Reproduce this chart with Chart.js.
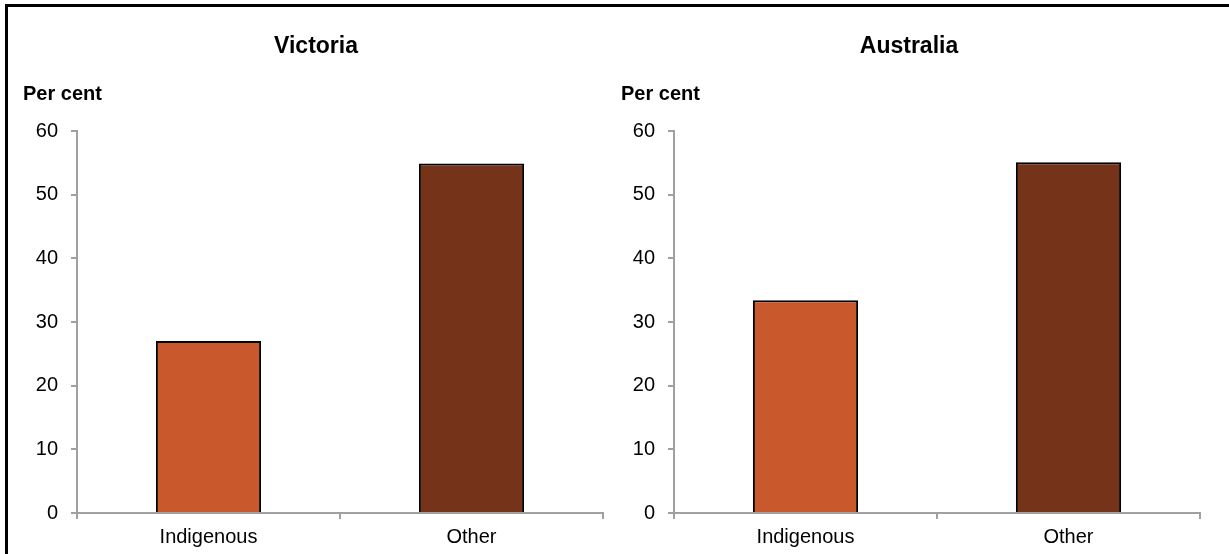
<!DOCTYPE html>
<html>
<head>
<meta charset="utf-8">
<script src="https://cdn.jsdelivr.net/npm/chart.js@4.4.1/dist/chart.umd.min.js"></script>
<style>
    body { margin: 0; background: #fff; width: 1229px; height: 554px; overflow: hidden; position: relative; }
    .frame { position: absolute; left: 5px; top: 4px; width: 1400px; height: 700px; border: 3px solid #000; }
    canvas { position: absolute; top: 0; }
    #vicChart { left: 0; }
    #ausChart { left: 614px; }
</style>
</head>
<body>
<div class="frame"></div>
<canvas id="vicChart" width="614" height="554"></canvas>
<canvas id="ausChart" width="615" height="554"></canvas>
<script>
// Data
const categories = ['Indigenous', 'Other'];
const victoriaValues = [27.0, 54.9];
const australiaValues = [33.4, 55.1];
const yMin = 0;
const yMax = 60;
const yStep = 10;
const barColours = ['#C9582D', '#75331A'];

Chart.defaults.font.family = 'Arial, "Liberation Sans", sans-serif';
Chart.defaults.font.size = 20;
Chart.defaults.color = '#000';

// Draws the panel title and the "Per cent" unit label
const panelText = {
    id: 'panelText',
    afterDraw(chart, args, opts) {
        const ctx = chart.ctx;
        ctx.save();
        ctx.fillStyle = '#000';
        ctx.textBaseline = 'alphabetic';
        ctx.textAlign = 'center';
        ctx.font = 'bold 23px Arial, "Liberation Sans", sans-serif';
        ctx.fillText(opts.title, opts.titleX, 53);
        ctx.textAlign = 'left';
        ctx.font = 'bold 20px Arial, "Liberation Sans", sans-serif';
        ctx.fillText('Per cent', opts.unitX, 100);
        ctx.restore();
    }
};

function makePanel(canvasId, values, title, titleX, unitX, axisWidth, padRight) {
    const ctx = document.getElementById(canvasId).getContext('2d');
    return new Chart(ctx, {
        type: 'bar',
        data: {
            labels: categories,
            datasets: [{
                data: values,
                backgroundColor: barColours,
                borderColor: '#000',
                borderWidth: 2,
                borderSkipped: 'bottom',
                barPercentage: 0.4,
                categoryPercentage: 1
            }]
        },
        options: {
            responsive: false,
            animation: false,
            layout: {
                padding: { left: 0, right: padRight, top: 131, bottom: 0 }
            },
            plugins: {
                legend: { display: false },
                tooltip: { enabled: false },
                title: { display: false },
                panelText: { title: title, titleX: titleX, unitX: unitX }
            },
            scales: {
                x: {
                    offset: true,
                    grid: {
                        offset: true,
                        drawOnChartArea: false,
                        drawTicks: true,
                        tickLength: 6,
                        color: '#a0a0a0',
                        lineWidth: 2
                    },
                    border: { color: '#a0a0a0', width: 2 },
                    ticks: { padding: 6 },
                    afterFit: s => { s.height = 41; }
                },
                y: {
                    min: yMin,
                    max: yMax,
                    ticks: { stepSize: yStep, padding: 13 },
                    grid: {
                        drawOnChartArea: false,
                        drawTicks: true,
                        tickLength: 6,
                        color: '#a0a0a0',
                        lineWidth: 2
                    },
                    border: { color: '#a0a0a0', width: 2 },
                    afterFit: s => { s.width = axisWidth; }
                }
            }
        },
        plugins: [panelText]
    });
}

makePanel('vicChart', victoriaValues, 'Victoria', 316, 23, 77, 11);
makePanel('ausChart', australiaValues, 'Australia', 295, 7, 60, 29);
</script>
</body>
</html>
